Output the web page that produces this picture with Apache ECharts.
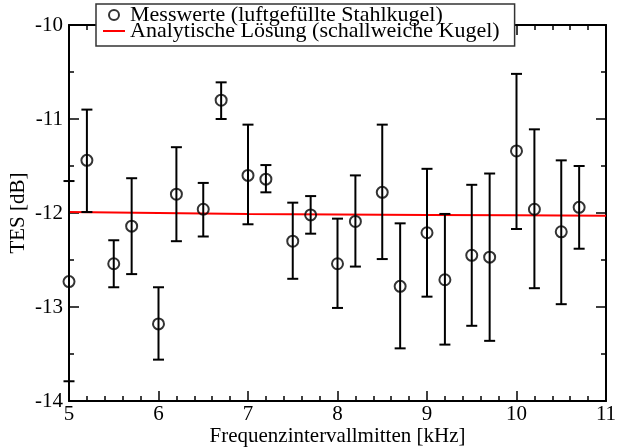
<!DOCTYPE html>
<html>
<head>
<meta charset="utf-8">
<script src="https://cdn.jsdelivr.net/npm/echarts@6/dist/echarts.min.js"></script>
<style>
  html, body { margin: 0; padding: 0; background: #fff; }
  #chart { width: 617px; height: 447px; }
</style>
</head>
<body>
<div id="chart"></div>
<script>
// measured points (frequency band centre in kHz, TES in dB)
const freq = [5.0, 5.2, 5.5, 5.7, 6.0, 6.2, 6.5, 6.7, 7.0, 7.2, 7.5, 7.7,
              8.0, 8.2, 8.5, 8.7, 9.0, 9.2, 9.5, 9.7, 10.0, 10.2, 10.5, 10.7];
const tes = [-12.73, -11.44, -12.54, -12.14, -13.18, -11.80, -11.96, -10.80, -11.60, -11.64, -12.30, -12.02,
             -12.54, -12.09, -11.78, -12.78, -12.21, -12.71, -12.45, -12.47, -11.34, -11.96, -12.20, -11.94];
const errHigh = [-11.66, -10.90, -12.29, -11.63, -12.79, -11.30, -11.68, -10.61, -11.06, -11.49, -11.89, -11.82,
                 -12.06, -11.60, -11.06, -12.11, -11.53, -12.01, -11.70, -11.58, -10.52, -11.11, -11.44, -11.50];
const errLow = [-13.79, -11.99, -12.79, -12.65, -13.56, -12.30, -12.25, -11.00, -12.12, -11.78, -12.70, -12.22,
                -13.01, -12.57, -12.49, -13.44, -12.89, -13.40, -13.20, -13.36, -12.17, -12.80, -12.97, -12.38];

// analytic solution
const lineFreq = [5, 6, 7, 8, 9, 10, 11];
const lineTes = [-11.99, -12.0, -12.01, -12.015, -12.02, -12.025, -12.03];

const nameMeas = 'Messwerte (luftgefüllte Stahlkugel)';
const nameAna = 'Analytische Lösung (schallweiche Kugel)';

const font = 'Liberation Serif';
const chart = echarts.init(document.getElementById('chart'));

const baseAxis = {
  type: 'value',
  axisLine: { show: true, onZero: false, lineStyle: { color: '#000', width: 2 } },
  axisTick: { show: true, inside: true, length: 10, lineStyle: { color: '#000', width: 1.5 } },
  minorTick: { show: true, length: 5, lineStyle: { color: '#000', width: 1.5 } },
  splitLine: { show: false },
  minorSplitLine: { show: false }
};

const xMain = {
  ...baseAxis, min: 5, max: 11, interval: 1,
  minorTick: { ...baseAxis.minorTick, splitNumber: 5 },
  axisLabel: { color: '#000', fontFamily: font, fontSize: 21, margin: 3 },
  name: 'Frequenzintervallmitten [kHz]', nameLocation: 'middle', nameGap: 25, nameMoveOverlap: false,
  nameTextStyle: { color: '#000', fontFamily: font, fontSize: 21 }
};
const yMain = {
  ...baseAxis, min: -14, max: -10, interval: 1,
  minorTick: { ...baseAxis.minorTick, splitNumber: 2 },
  axisLabel: { color: '#000', fontFamily: font, fontSize: 21, margin: 6 },
  name: 'TES [dB]', nameLocation: 'middle', nameGap: 40, nameMoveOverlap: false,
  nameTextStyle: { color: '#000', fontFamily: font, fontSize: 21 }
};

chart.setOption({
  backgroundColor: '#fff',
  animation: false,
  grid: { left: 69, right: 11, top: 25, bottom: 46, outerBoundsMode: 'none', containLabel: false },
  legend: {
    data: [nameMeas, nameAna],
    orient: 'vertical',
    left: 96, top: 4,
    padding: [0, 15, 4, 6],
    itemWidth: 22, itemHeight: 10, itemGap: -6,
    borderColor: '#333', borderWidth: 1.5,
    backgroundColor: '#fff',
    textStyle: { color: '#000', fontFamily: font, fontSize: 22 }
  },
  xAxis: [
    xMain,
    { ...xMain, position: 'top', axisLabel: { show: false }, name: '' }
  ],
  yAxis: [
    yMain,
    { ...yMain, position: 'right', axisLabel: { show: false }, name: '' }
  ],
  series: [
    {
      name: nameAna,
      type: 'line',
      data: lineFreq.map((x, i) => [x, lineTes[i]]),
      symbol: 'none',
      lineStyle: { color: '#ff0000', width: 2 },
      itemStyle: { color: 'rgba(0,0,0,0)', borderWidth: 0 },
      z: 2
    },
    {
      name: 'Fehler',
      type: 'custom',
      data: freq.map((x, i) => [x, errLow[i], errHigh[i]]),
      encode: { x: 0, y: [1, 2] },
      z: 3,
      renderItem: function (params, api) {
        const x = api.value(0);
        const lo = api.coord([x, api.value(1)]);
        const hi = api.coord([x, api.value(2)]);
        const w = 5.5;
        const style = { stroke: '#000', lineWidth: 2 };
        return {
          type: 'group',
          children: [
            { type: 'line', shape: { x1: lo[0], y1: lo[1], x2: hi[0], y2: hi[1] }, style },
            { type: 'line', shape: { x1: hi[0] - w, y1: hi[1], x2: hi[0] + w, y2: hi[1] }, style },
            { type: 'line', shape: { x1: lo[0] - w, y1: lo[1], x2: lo[0] + w, y2: lo[1] }, style }
          ]
        };
      }
    },
    {
      name: nameMeas,
      type: 'scatter',
      data: freq.map((x, i) => [x, tes[i]]),
      symbol: 'circle',
      symbolSize: 11,
      itemStyle: { color: 'rgba(0,0,0,0)', borderColor: '#000', borderWidth: 2 },
      z: 4
    }
  ]
});
</script>
</body>
</html>
